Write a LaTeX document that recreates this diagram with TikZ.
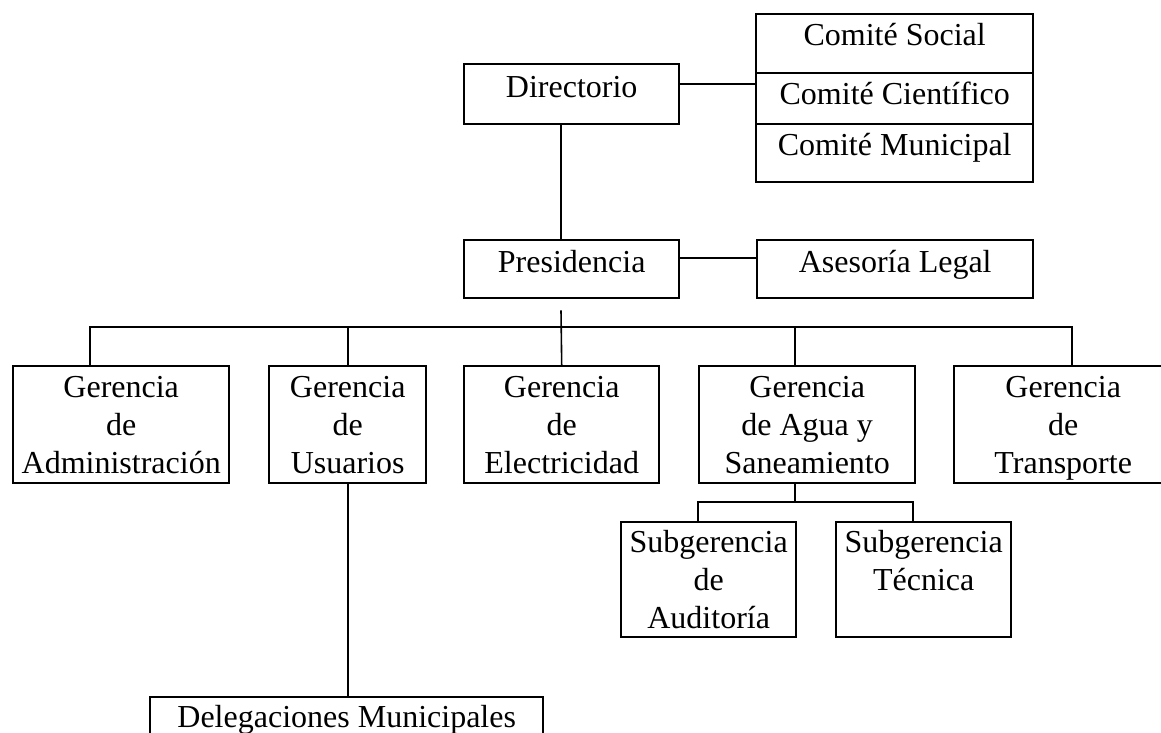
\documentclass[tikz,border=0pt]{standalone}
\usepackage{fontspec}
\setmainfont{Liberation Serif}
\usetikzlibrary{calc}
\newcommand\orgfont{\fontsize{32}{38}\selectfont}
\newcommand\ml[1]{\begin{tabular}[t]{@{}c@{}}#1\end{tabular}}
\tikzset{
  box/.style={draw, line width=2.4pt, inner sep=0pt, anchor=north west},
  lbl/.style={anchor=base, inner sep=0pt, font=\orgfont},
  conn/.style={line width=2.2pt},
  thin/.style={line width=1.6pt}
}
\begin{document}
\begin{tikzpicture}[x=1pt,y=-1pt]
\useasboundingbox (0,0) rectangle (1161,732);
\fill[white] (0,0) rectangle (1161,732);
\clip (0,0) rectangle (1161,732);
% boxes
\node[box, minimum width=215, minimum height=60] (dir) at (463,63) {};
\node[box, minimum width=277, minimum height=59] (soc) at (755,13) {};
\node[box, minimum width=277, minimum height=51] (cien) at (755,72) {};
\node[box, minimum width=277, minimum height=58] (mun) at (755,123) {};
\node[box, minimum width=215, minimum height=58] (pres) at (463,239) {};
\node[box, minimum width=276, minimum height=58] (ases) at (756,239) {};
\node[box, minimum width=216, minimum height=117] (admin) at (12,365) {};
\node[box, minimum width=157, minimum height=117] (usu) at (268,365) {};
\node[box, minimum width=195, minimum height=117] (elec) at (463,365) {};
\node[box, minimum width=216, minimum height=117] (agua) at (698,365) {};
\node[box, minimum width=218, minimum height=117] (trans) at (953,365) {};
\node[box, minimum width=175, minimum height=115] (aud) at (620,521) {};
\node[box, minimum width=175, minimum height=115] (tec) at (835,521) {};
\node[box, minimum width=393, minimum height=60] (dele) at (149,696) {};
% labels
\node[lbl] (dir-t) at ($(dir.north)+(0,34)$) {Directorio};
\node[lbl] (soc-t) at ($(soc.north)+(0,32)$) {Comité Social};
\node[lbl] (cien-t) at ($(cien.north)+(0,32)$) {Comité Científico};
\node[lbl] (mun-t) at ($(mun.north)+(0,32)$) {Comité Municipal};
\node[lbl] (pres-t) at ($(pres.north)+(0,33)$) {Presidencia};
\node[lbl] (ases-t) at ($(ases.north)+(0,33)$) {Asesoría Legal};
\node[lbl] (admin-t) at ($(admin.north)+(0,32)$) {\ml{Gerencia\\de\\Administración}};
\node[lbl] (usu-t) at ($(usu.north)+(0,32)$) {\ml{Gerencia\\de\\Usuarios}};
\node[lbl] (elec-t) at ($(elec.north)+(0,32)$) {\ml{Gerencia\\de\\Electricidad}};
\node[lbl] (agua-t) at ($(agua.north)+(0,32)$) {\ml{Gerencia\\de Agua y\\Saneamiento}};
\node[lbl] (trans-t) at ($(trans.north)+(0,32)$) {\ml{Gerencia\\de\\Transporte}};
\node[lbl] (aud-t) at ($(aud.north)+(0,31)$) {\ml{Subgerencia\\de\\Auditoría}};
\node[lbl] (tec-t) at ($(tec.north)+(0,31)$) {\ml{Subgerencia\\Técnica}};
\node[lbl] (dele-t) at ($(dele.north)+(0,31)$) {Delegaciones Municipales};
% junction coordinates
\coordinate (busL) at (90,327);
\coordinate (busR) at (1072,327);
\coordinate (busA) at (795,327);
\coordinate (sbL) at (698,502);
\coordinate (sbR) at (913,502);
\coordinate (sbM) at (795,502);
% connectors
\draw[conn] ($(dir.north east)+(0,21)$) -- ($(cien.north west)+(0,12)$);
\draw[conn] ($(dir.south west)+(98,0)$) -- ($(pres.north west)+(98,0)$);
\draw[conn] ($(pres.north east)+(0,19)$) -- ($(ases.north west)+(0,19)$);
\draw[thin] ($(pres.south west)+(98,11)$) -- (elec.north);
\draw[thin] (admin.north -| busL) -- (busL) -- (busR) -- (trans.north -| busR);
\draw[thin] (usu.north) -- (usu.north |- busL);
\draw[thin] (busA) -- (agua.north -| busA);
\draw[thin] (usu.south) -- (usu.south |- dele.north);
\draw[thin] (agua.south -| sbM) -- (sbM);
\draw[thin] (aud.north -| sbL) -- (sbL) -- (sbR) -- (tec.north -| sbR);
\end{tikzpicture}
\end{document}
